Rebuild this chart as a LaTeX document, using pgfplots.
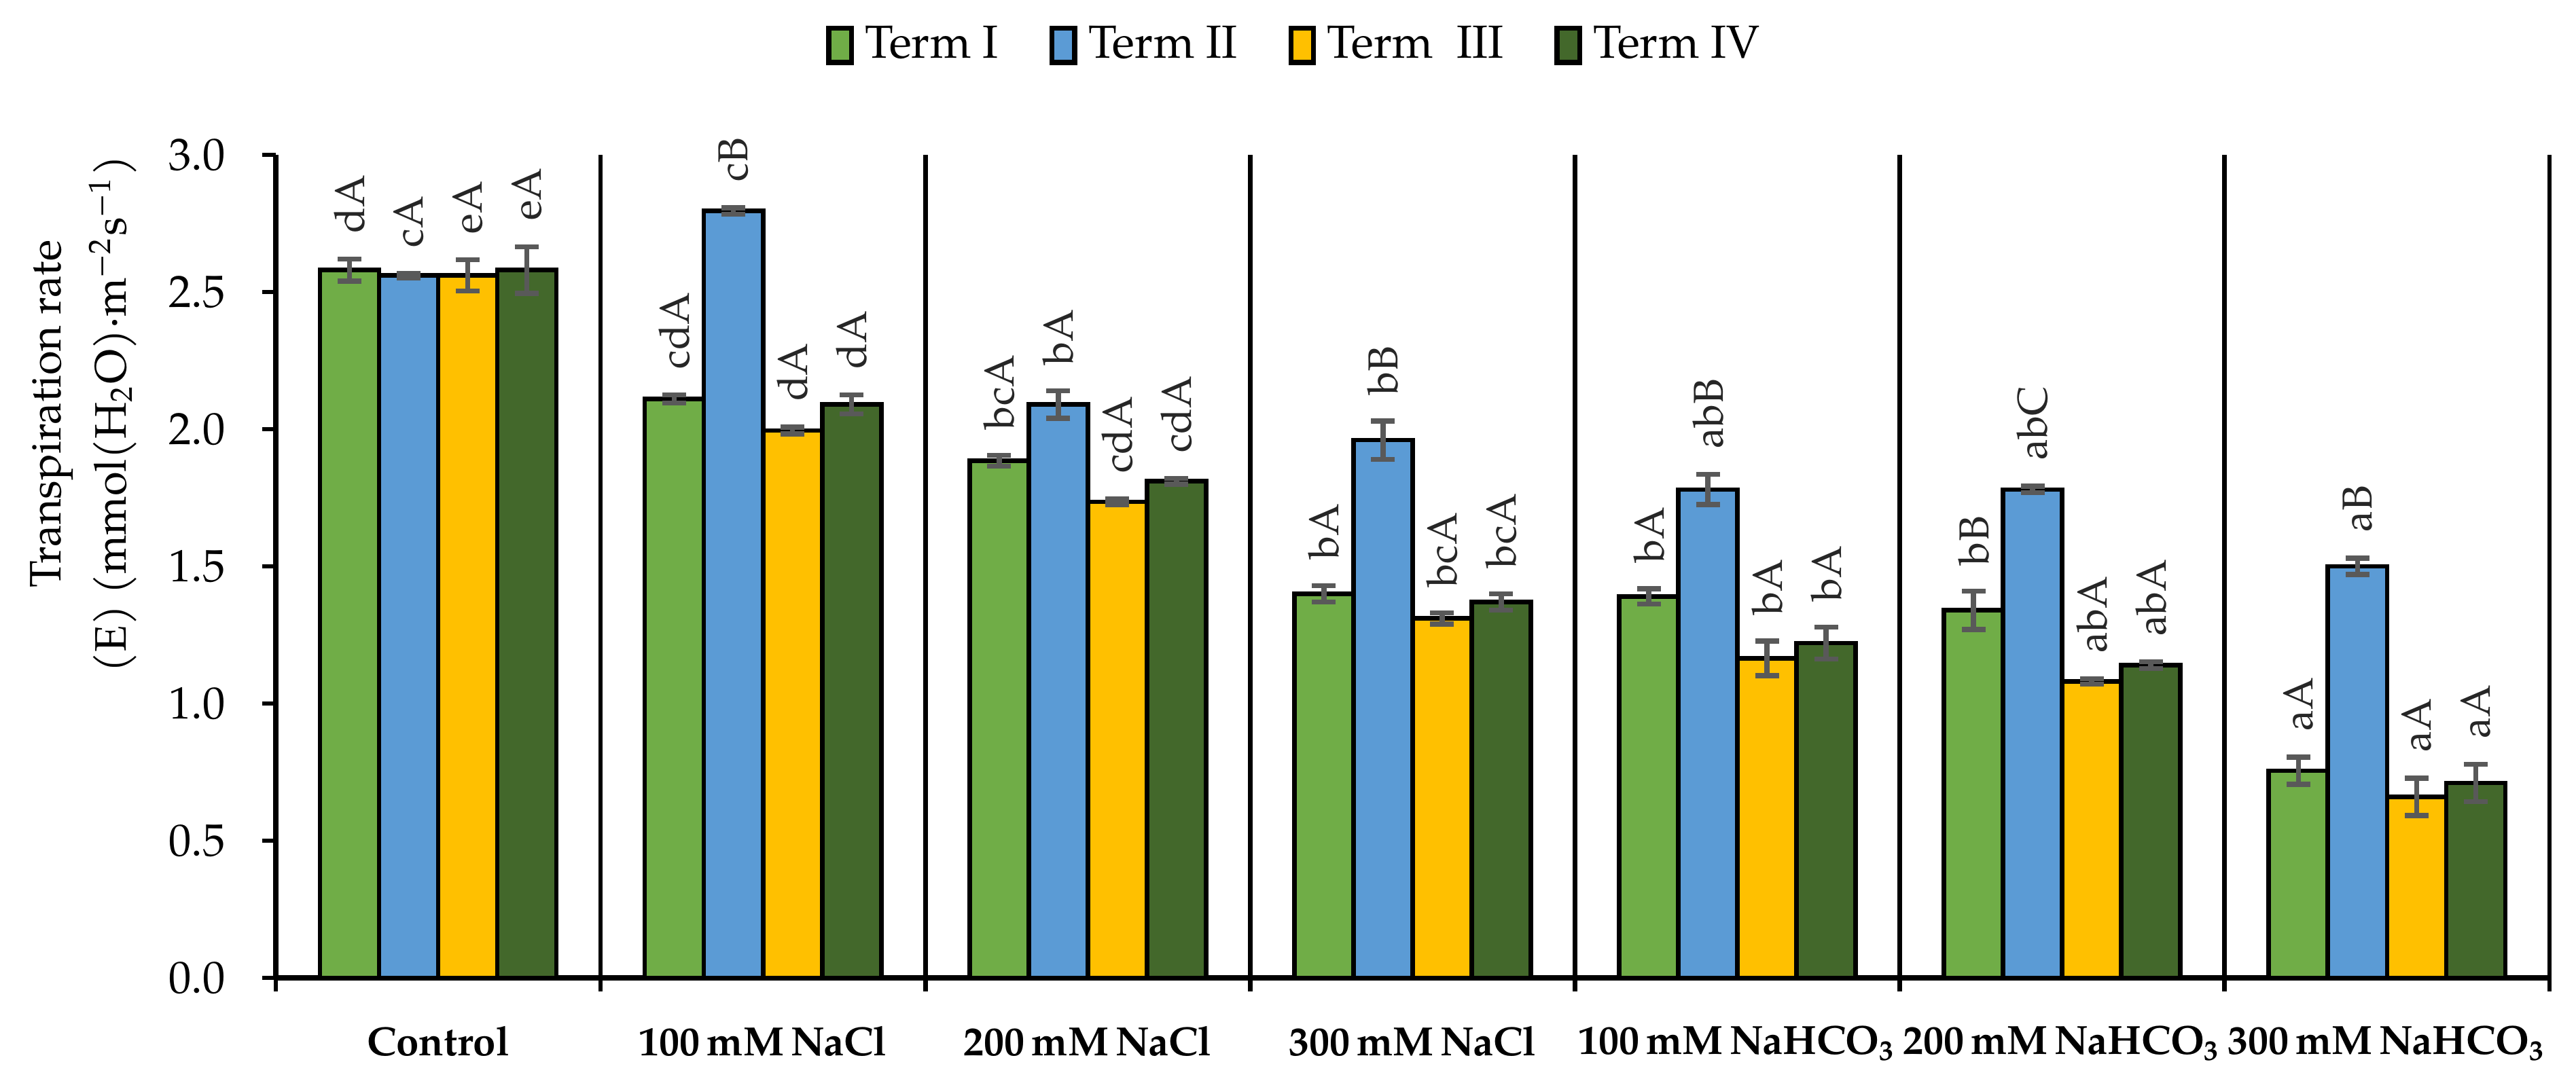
\documentclass[border=0pt]{standalone}
\usepackage{fontspec}
\setmainfont{TeX Gyre Pagella}
\usepackage{pgfplots}
\pgfplotsset{compat=1.18}
\usepackage{pgfplotstable}
\definecolor{cI}{HTML}{70AD47}
\definecolor{cII}{HTML}{5B9BD5}
\definecolor{cIII}{HTML}{FFC000}
\definecolor{cIV}{HTML}{43682B}
\definecolor{errgray}{HTML}{595959}
\definecolor{labgray}{HTML}{262626}

\pgfplotstableread{
x y e lab
0 2.58 0.040 dA
1 2.11 0.015 cdA
2 1.885 0.020 bcA
3 1.40 0.030 bA
4 1.39 0.028 bA
5 1.34 0.070 bB
6 0.755 0.050 aA
}\termI
\pgfplotstableread{
x y e lab
0 2.56 0.008 cA
1 2.795 0.012 cB
2 2.09 0.050 bA
3 1.96 0.070 bB
4 1.78 0.055 abB
5 1.78 0.012 abC
6 1.50 0.030 aB
}\termII
\pgfplotstableread{
x y e lab
0 2.56 0.057 eA
1 1.995 0.012 dA
2 1.735 0.010 cdA
3 1.31 0.020 bcA
4 1.165 0.063 bA
5 1.08 0.010 abA
6 0.66 0.068 aA
}\termIII
\pgfplotstableread{
x y e lab
0 2.58 0.085 eA
1 2.09 0.035 dA
2 1.81 0.010 cdA
3 1.37 0.030 bcA
4 1.22 0.058 bA
5 1.14 0.012 abA
6 0.71 0.068 aA
}\termIV

\pgfplotsset{
  barstyle/.style={ybar, bar width=0.182, draw=black, line width=0.8pt},
  errstyle/.style={forget plot, draw=none, mark=none,
    error bars/y dir=both, error bars/y explicit,
    error bars/error bar style={draw=errgray, line width=0.9pt},
    error bars/error mark options={rotate=90, mark size=2.1pt, draw=errgray, line width=0.9pt}},
  labstyle/.style={forget plot, only marks, mark=none,
    nodes near coords, point meta=explicit symbolic,
    nodes near coords style={rotate=90, anchor=west, inner xsep=4.4pt, inner ysep=0pt,
      font=\fontsize{7.4}{8}\selectfont, text=labgray}},
}

\begin{document}
\begin{tikzpicture}
\path[use as bounding box] (0,0) rectangle (16cm,6.692cm);
\begin{axis}[
  at={(1.713cm,0.616cm)}, anchor=south west,
  scale only axis, width=14.122cm, height=5.114cm,
  xmin=-0.5, xmax=6.5, ymin=0, ymax=3,
  axis x line*=bottom, axis y line*=left,
  axis line style={line width=1pt, -},
  ytick={0,0.5,...,3},
  yticklabel style={font=\fontsize{8}{9}\selectfont, xshift=-3pt,
    /pgf/number format/fixed, /pgf/number format/fixed zerofill,
    /pgf/number format/precision=1, /pgf/number format/assume math mode=true},
  xtick={-0.5,0.5,...,6.5}, xticklabels={},
  xmajorgrids, grid style={black, line width=0.8pt},
  tick style={black, line width=0.8pt},
  major tick length=2.4pt, tick align=outside,
  extra x ticks={0,1,2,3,4,5,6},
  extra x tick labels={Control, 100\,mM\,NaCl, 200\,mM\,NaCl, 300\,mM\,NaCl, 100\,mM\,NaHCO\textsubscript{3}, 200\,mM\,NaHCO\textsubscript{3}, 300\,mM\,NaHCO\textsubscript{3}},
  extra x tick style={grid=none, major tick length=0pt, tick style={draw=none},
    xticklabel style={font=\bfseries\fontsize{7.2}{8}\selectfont, yshift=-5pt}},
  ylabel={Transpiration rate\\(E) (mmol(H\textsubscript{2}O)·m\textsuperscript{−2}s\textsuperscript{−1})},
  ylabel style={at={(axis description cs:-0.0846,0.685)}, anchor=center, align=center,
    font=\fontsize{7.8}{11.6}\selectfont},
  legend columns=4,
  legend style={at={(0.45,1.132)}, anchor=center, draw=none, fill=none,
    font=\fontsize{8.2}{10}\selectfont,
    /tikz/every even column/.append style={column sep=7pt}},
  legend image code/.code={\draw[#1, draw=black, line width=0.9pt] (0pt,-2.9pt) rectangle (4pt,3.2pt);},
]
\addplot[barstyle, fill=cI, bar shift=-0.273] table[x=x, y=y]{\termI};
\addplot[barstyle, fill=cII, bar shift=-0.091] table[x=x, y=y]{\termII};
\addplot[barstyle, fill=cIII, bar shift=0.091] table[x=x, y=y]{\termIII};
\addplot[barstyle, fill=cIV, bar shift=0.273] table[x=x, y=y]{\termIV};
\legend{Term I, Term II, Term\enspace III, Term IV}
\addplot[errstyle] table[x expr=\thisrow{x}-0.273, y=y, y error=e]{\termI};
\addplot[errstyle] table[x expr=\thisrow{x}-0.091, y=y, y error=e]{\termII};
\addplot[errstyle] table[x expr=\thisrow{x}+0.091, y=y, y error=e]{\termIII};
\addplot[errstyle] table[x expr=\thisrow{x}+0.273, y=y, y error=e]{\termIV};
\addplot[labstyle] table[x expr=\thisrow{x}-0.273, y expr=\thisrow{y}+\thisrow{e}, meta=lab]{\termI};
\addplot[labstyle] table[x expr=\thisrow{x}-0.091, y expr=\thisrow{y}+\thisrow{e}, meta=lab]{\termII};
\addplot[labstyle] table[x expr=\thisrow{x}+0.091, y expr=\thisrow{y}+\thisrow{e}, meta=lab]{\termIII};
\addplot[labstyle] table[x expr=\thisrow{x}+0.273, y expr=\thisrow{y}+\thisrow{e}, meta=lab]{\termIV};
\end{axis}
\end{tikzpicture}
\end{document}
